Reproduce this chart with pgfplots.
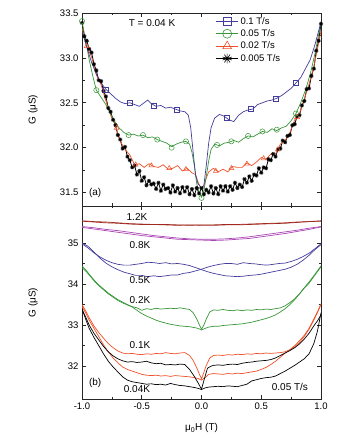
\documentclass[border=0pt]{standalone}
\usepackage{fontspec}
\setmainfont{Liberation Sans}
\usepackage{pgfplots}
\pgfplotsset{compat=1.18}
\definecolor{cB}{RGB}{68,60,155}
\definecolor{cG}{RGB}{55,150,55}
\definecolor{cR}{RGB}{240,80,40}
\definecolor{cBr}{RGB}{160,40,30}
\definecolor{cP}{RGB}{170,70,180}
\pgfplotsset{
  myax/.style={
    scale only axis, width=239pt, height=193pt,
    xmin=-1, xmax=1,
    xtick={-1,-0.5,0,0.5,1}, minor x tick num=1,
    xtick pos=both, ytick pos=both,
    tick align=inside,
    major tick length=4pt, minor tick length=2.5pt,
    axis line style={line width=0.7pt, black!85},
    every tick/.style={line width=0.6pt, black!85},
    tick label style={font=\fontsize{9.5}{11}\selectfont},
    label style={font=\fontsize{10}{12}\selectfont},
    every axis y label/.style={at={(axis description cs:-0.205,0.5)}, rotate=90, anchor=center},
    clip=true,
  }
}
\begin{document}
\begin{tikzpicture}
\useasboundingbox (0pt,0pt) rectangle (355pt,443pt);
% ---------------- top panel ----------------
\begin{axis}[myax, at={(82pt,237pt)}, anchor=south west,
  ymin=31.35, ymax=33.5,
  ytick={31.5,32,32.5,33,33.5}, yticklabels={31.5,32.0,32.5,33.0,33.5},
  minor y tick num=1,
  xticklabel=\empty,
  ylabel={G (μS)},
  legend style={draw=none, fill=none, at={(axis description cs:0.555,0.995)}, anchor=north west,
     font=\fontsize{9.5}{12.6}\selectfont, row sep=0pt, inner sep=1pt},
  legend cell align=left,
  legend image code/.code={\draw[mark repeat=2,mark phase=2] plot coordinates {(0pt,0pt) (11pt,0pt) (22pt,0pt)};},
]
\addlegendimage{cB, line width=0.7pt, mark=square, mark size=4pt, mark options={fill=white, line width=0.6pt}}
\addlegendentry{0.1 T/s}
\addlegendimage{cG, line width=0.7pt, mark=o, mark size=4.5pt, mark options={fill=white, line width=0.6pt}}
\addlegendentry{0.05 T/s}
\addlegendimage{cR, line width=0.7pt, mark=triangle, mark size=5pt, mark options={fill=white, line width=0.6pt}}
\addlegendentry{0.02 T/s}
\addlegendimage{black, line width=0.7pt, mark=10-pointed star, mark size=4.8pt, mark options={fill=white, line width=0.6pt}}
\addlegendentry{0.005 T/s}
% black 0.005 T/s
\addplot[forget plot, black, line width=0.8pt, mark=10-pointed star, mark size=2.1pt, mark options={fill=white, line width=0.45pt}] coordinates {
(-1.00,33.39)(-0.98,33.24)(-0.96,33.19)(-0.94,33.10)(-0.92,33.06)(-0.90,32.93)(-0.88,32.86)(-0.86,32.75)(-0.84,32.74)(-0.82,32.63)
(-0.80,32.57)(-0.78,32.44)(-0.76,32.40)(-0.74,32.31)(-0.72,32.25)(-0.70,32.14)(-0.68,32.09)(-0.66,31.99)(-0.64,32.01)(-0.62,31.90)
(-0.60,31.86)(-0.58,31.78)(-0.56,31.80)(-0.54,31.70)(-0.52,31.74)(-0.50,31.63)(-0.48,31.67)(-0.46,31.58)(-0.44,31.63)(-0.42,31.59)
(-0.40,31.60)(-0.38,31.54)(-0.36,31.61)(-0.34,31.52)(-0.32,31.59)(-0.30,31.54)(-0.28,31.55)(-0.26,31.50)(-0.24,31.58)(-0.22,31.51)
(-0.20,31.55)(-0.18,31.49)(-0.16,31.56)(-0.14,31.51)(-0.12,31.56)(-0.10,31.48)(-0.08,31.54)(-0.06,31.47)(-0.04,31.55)(-0.02,31.49)
(0.00,31.55)(0.02,31.48)(0.04,31.53)(0.06,31.50)(0.08,31.57)(0.10,31.49)(0.12,31.55)(0.14,31.48)(0.16,31.57)(0.18,31.52)
(0.20,31.57)(0.22,31.51)(0.24,31.57)(0.26,31.53)(0.28,31.61)(0.30,31.55)(0.32,31.59)(0.34,31.56)(0.36,31.65)(0.38,31.61)
(0.40,31.68)(0.42,31.63)(0.44,31.70)(0.46,31.69)(0.48,31.77)(0.50,31.72)(0.52,31.78)(0.54,31.77)(0.56,31.87)(0.58,31.86)
(0.60,31.93)(0.62,31.90)(0.64,31.98)(0.66,31.99)(0.68,32.08)(0.70,32.06)(0.72,32.13)(0.74,32.14)(0.76,32.25)(0.78,32.26)
(0.80,32.35)(0.82,32.36)(0.84,32.47)(0.86,32.52)(0.88,32.65)(0.90,32.66)(0.92,32.80)(0.94,32.88)(0.96,33.08)(0.98,33.19)(1.00,33.38)
};
% red 0.02 T/s
\addplot[forget plot, cR, line width=0.7pt] coordinates {
(-1.00,33.33)(-0.96,33.13)(-0.92,33.01)(-0.88,32.81)(-0.84,32.70)(-0.80,32.52)(-0.76,32.36)(-0.72,32.25)(-0.68,32.07)(-0.64,31.98)
(-0.60,31.92)(-0.56,31.81)(-0.52,31.82)(-0.48,31.78)(-0.44,31.82)(-0.40,31.79)(-0.36,31.78)(-0.32,31.81)(-0.28,31.76)(-0.24,31.77)
(-0.20,31.80)(-0.16,31.74)(-0.12,31.77)(-0.08,31.72)(-0.05,31.70)(-0.03,31.62)(-0.01,31.56)(0.00,31.55)(0.02,31.58)(0.04,31.66)
(0.06,31.73)(0.10,31.77)(0.14,31.73)(0.18,31.76)(0.22,31.73)(0.26,31.79)(0.30,31.78)(0.34,31.78)(0.38,31.83)(0.42,31.80)
(0.46,31.84)(0.50,31.89)(0.54,31.87)(0.58,31.93)(0.62,31.93)(0.66,32.04)(0.70,32.08)(0.74,32.17)(0.78,32.31)(0.82,32.38)
(0.86,32.54)(0.90,32.71)(0.94,32.90)(0.97,33.10)(1.00,33.30)
};
\addplot[forget plot, only marks, cR, mark=triangle, mark size=2.8pt, mark options={fill=white, line width=0.5pt}] coordinates {
(-0.96,33.13)(-0.71,32.22)(-0.55,31.81)(-0.42,31.80)(-0.27,31.77)(-0.13,31.76)(0.12,31.74)(0.25,31.77)(0.38,31.82)(0.52,31.88)(0.64,31.98)(0.80,32.34)
};
% green 0.05 T/s
\addplot[forget plot, cG, line width=0.7pt] coordinates {
(-1.00,33.40)(-0.97,33.20)(-0.94,32.98)(-0.91,32.80)(-0.88,32.64)(-0.84,32.56)(-0.80,32.48)(-0.77,32.40)(-0.73,32.30)(-0.69,32.22)
(-0.65,32.17)(-0.61,32.14)(-0.57,32.15)(-0.53,32.13)(-0.49,32.14)(-0.45,32.11)(-0.41,32.12)(-0.37,32.09)(-0.33,32.07)(-0.29,32.05)
(-0.25,32.01)(-0.21,32.04)(-0.17,32.06)(-0.13,32.07)(-0.10,32.04)(-0.08,31.95)(-0.06,31.80)(-0.04,31.60)(-0.02,31.50)(0.00,31.45)
(0.02,31.52)(0.04,31.68)(0.06,31.85)(0.08,31.98)(0.11,32.04)(0.15,32.02)(0.19,32.05)(0.23,32.06)(0.27,32.08)(0.31,32.06)
(0.35,32.10)(0.39,32.13)(0.43,32.12)(0.47,32.15)(0.51,32.18)(0.55,32.17)(0.59,32.21)(0.63,32.19)(0.67,32.22)(0.71,32.24)
(0.75,32.30)(0.79,32.38)(0.83,32.50)(0.87,32.64)(0.91,32.82)(0.95,33.05)(1.00,33.40)
};
\addplot[forget plot, only marks, cG, mark=o, mark size=2.6pt, mark options={fill=white, line width=0.5pt}] coordinates {
(-1.00,33.41)(-0.88,32.64)(-0.61,32.14)(-0.49,32.14)(-0.37,32.09)(-0.25,32.00)(-0.13,32.07)(0.00,31.44)(0.13,32.03)(0.25,32.07)(0.39,32.13)(0.51,32.18)(0.63,32.20)(0.79,32.38)
};
% blue 0.1 T/s
\addplot[forget plot, cB, line width=0.7pt] coordinates {
(-1.00,33.30)(-0.96,33.12)(-0.92,32.95)(-0.88,32.82)(-0.84,32.72)(-0.80,32.65)(-0.76,32.60)(-0.72,32.55)(-0.68,32.51)(-0.64,32.49)
(-0.60,32.50)(-0.56,32.48)(-0.52,32.46)(-0.48,32.50)(-0.45,32.53)(-0.42,32.49)(-0.38,32.46)(-0.34,32.47)(-0.30,32.44)(-0.26,32.45)
(-0.22,32.43)(-0.18,32.41)(-0.14,32.40)(-0.11,32.36)(-0.09,32.22)(-0.07,31.95)(-0.05,31.70)(-0.03,31.60)(0.00,31.55)(0.02,31.58)
(0.04,31.80)(0.06,32.05)(0.08,32.22)(0.11,32.33)(0.15,32.37)(0.19,32.35)(0.23,32.31)(0.27,32.29)(0.31,32.36)(0.35,32.40)
(0.39,32.42)(0.43,32.43)(0.47,32.48)(0.51,32.50)(0.55,32.52)(0.59,32.53)(0.63,32.55)(0.67,32.58)(0.71,32.62)(0.75,32.66)
(0.79,32.72)(0.83,32.78)(0.87,32.88)(0.91,32.98)(0.95,33.15)(1.00,33.40)
};
\addplot[forget plot, only marks, cB, mark=square, mark size=2.5pt, mark options={fill=white, line width=0.5pt}] coordinates {
(-0.80,32.65)(-0.60,32.50)(-0.40,32.47)(-0.21,32.42)(0.21,32.33)(0.41,32.43)(0.62,32.55)(0.79,32.72)
};
\node[font=\fontsize{10}{12}\selectfont] at (axis cs:-0.414,33.39) {T = 0.04 K};
\node[font=\fontsize{10}{12}\selectfont] at (axis cs:-0.89,31.50) {(a)};
\end{axis}
% ---------------- bottom panel ----------------
\begin{axis}[myax, at={(82pt,44pt)}, anchor=south west,
  ymin=31.2, ymax=35.9,
  ytick={32,33,34,35}, yticklabels={32,33,34,35},
  minor y tick num=1,
  xticklabels={-1.0,-0.5,0.0,0.5,1.0},
  ylabel={G (μS)},
  xlabel={μ\textsubscript{0}H (T)},
  xlabel style={at={(axis description cs:0.5,-0.15)}, anchor=center},
]
% 1.2 K
\addplot[cBr, line width=0.7pt] coordinates {
(-1.0,35.53)(-0.9,35.51)(-0.8,35.49)(-0.7,35.48)(-0.6,35.46)(-0.5,35.45)(-0.4,35.45)(-0.3,35.44)(-0.2,35.43)(-0.1,35.44)(0.0,35.43)
(0.1,35.43)(0.2,35.44)(0.3,35.44)(0.4,35.45)(0.5,35.46)(0.6,35.47)(0.7,35.48)(0.8,35.50)(0.9,35.52)(1.0,35.54)
};
\addplot[cBr, line width=0.7pt] coordinates {
(-1.0,35.54)(-0.9,35.52)(-0.8,35.51)(-0.7,35.49)(-0.6,35.47)(-0.5,35.46)(-0.4,35.45)(-0.3,35.45)(-0.2,35.44)(-0.1,35.43)(0.0,35.44)
(0.1,35.44)(0.2,35.45)(0.3,35.45)(0.4,35.46)(0.5,35.47)(0.6,35.48)(0.7,35.49)(0.8,35.51)(0.9,35.52)(1.0,35.53)
};
% 0.8 K
\addplot[cP, line width=0.7pt] coordinates {
(-1.0,35.40)(-0.9,35.37)(-0.8,35.33)(-0.7,35.30)(-0.6,35.26)(-0.5,35.22)(-0.4,35.18)(-0.3,35.15)(-0.2,35.12)(-0.1,35.10)(0.0,35.09)
(0.1,35.09)(0.2,35.10)(0.3,35.12)(0.4,35.15)(0.5,35.19)(0.6,35.23)(0.7,35.27)(0.8,35.31)(0.9,35.36)(1.0,35.40)
};
\addplot[cP, line width=0.7pt] coordinates {
(-1.0,35.38)(-0.9,35.34)(-0.8,35.30)(-0.7,35.26)(-0.6,35.22)(-0.5,35.18)(-0.4,35.15)(-0.3,35.12)(-0.2,35.09)(-0.1,35.08)(0.0,35.07)
(0.1,35.06)(0.2,35.07)(0.3,35.09)(0.4,35.11)(0.5,35.15)(0.6,35.19)(0.7,35.23)(0.8,35.28)(0.9,35.33)(1.0,35.39)
};
% 0.5 K
\addplot[cB, line width=0.7pt] coordinates {
(-1.00,35.00)(-0.95,34.92)(-0.90,34.78)(-0.85,34.63)(-0.80,34.51)(-0.75,34.42)(-0.70,34.35)(-0.65,34.29)(-0.60,34.25)(-0.55,34.21)
(-0.50,34.21)(-0.45,34.18)(-0.40,34.20)(-0.35,34.18)(-0.30,34.20)(-0.25,34.22)(-0.20,34.22)(-0.15,34.26)(-0.10,34.28)(-0.05,34.32)
(0.00,34.36)(0.05,34.41)(0.10,34.45)(0.15,34.48)(0.20,34.50)(0.25,34.50)(0.30,34.48)(0.35,34.52)(0.40,34.50)(0.45,34.49)
(0.50,34.47)(0.55,34.46)(0.60,34.48)(0.65,34.50)(0.70,34.51)(0.75,34.55)(0.80,34.60)(0.85,34.67)(0.90,34.75)(0.95,34.86)(1.00,34.98)
};
\addplot[cB, line width=0.7pt] coordinates {
(-1.00,34.98)(-0.95,34.88)(-0.90,34.76)(-0.85,34.66)(-0.80,34.58)(-0.75,34.52)(-0.70,34.48)(-0.65,34.46)(-0.60,34.46)(-0.55,34.48)
(-0.50,34.50)(-0.45,34.53)(-0.40,34.52)(-0.35,34.50)(-0.30,34.52)(-0.25,34.49)(-0.20,34.50)(-0.15,34.48)(-0.10,34.45)(-0.05,34.40)
(0.00,34.35)(0.05,34.30)(0.10,34.26)(0.15,34.23)(0.20,34.20)(0.25,34.19)(0.30,34.18)(0.35,34.19)(0.40,34.21)(0.45,34.22)
(0.50,34.24)(0.55,34.27)(0.60,34.30)(0.65,34.33)(0.70,34.36)(0.75,34.41)(0.80,34.48)(0.85,34.58)(0.90,34.70)(0.95,34.84)(1.00,34.96)
};
% 0.2 K
\addplot[cG, line width=0.7pt] coordinates {
(-1.00,34.40)(-0.97,34.32)(-0.94,34.22)(-0.90,34.08)(-0.86,33.96)(-0.82,33.86)(-0.78,33.76)(-0.74,33.68)(-0.70,33.60)(-0.66,33.54)
(-0.62,33.49)(-0.58,33.45)(-0.54,33.42)(-0.50,33.36)(-0.46,33.40)(-0.42,33.38)(-0.38,33.41)(-0.34,33.39)(-0.30,33.40)(-0.26,33.41)
(-0.22,33.40)(-0.18,33.42)(-0.14,33.40)(-0.10,33.38)(-0.07,33.30)(-0.04,33.15)(-0.02,33.02)(0.00,32.90)(0.02,33.00)(0.04,33.15)
(0.07,33.32)(0.10,33.37)(0.14,33.36)(0.18,33.38)(0.22,33.36)(0.26,33.35)(0.30,33.37)(0.34,33.35)(0.38,33.37)(0.42,33.36)
(0.46,33.38)(0.50,33.37)(0.54,33.39)(0.58,33.38)(0.62,33.40)(0.66,33.42)(0.70,33.47)(0.74,33.55)(0.78,33.64)(0.82,33.76)
(0.86,33.90)(0.90,34.02)(0.94,34.18)(0.97,34.30)(1.00,34.42)
};
\addplot[cG, line width=0.7pt] coordinates {
(-1.00,34.44)(-0.97,34.35)(-0.94,34.24)(-0.90,34.10)(-0.86,33.98)(-0.82,33.88)(-0.78,33.78)(-0.74,33.70)(-0.70,33.62)(-0.66,33.56)
(-0.62,33.50)(-0.58,33.44)(-0.54,33.36)(-0.50,33.28)(-0.46,33.22)(-0.42,33.17)(-0.38,33.12)(-0.34,33.08)(-0.30,33.05)(-0.26,33.02)
(-0.22,33.00)(-0.18,32.98)(-0.14,32.97)(-0.10,32.96)(-0.06,32.94)(-0.03,32.92)(0.00,32.88)(0.03,32.92)(0.06,32.95)(0.10,32.97)
(0.14,32.97)(0.18,32.99)(0.22,33.00)(0.26,33.01)(0.30,33.02)(0.34,33.03)(0.38,33.05)(0.42,33.07)(0.46,33.10)(0.50,33.13)
(0.54,33.16)(0.58,33.20)(0.62,33.25)(0.66,33.32)(0.70,33.40)(0.74,33.50)(0.78,33.62)(0.82,33.76)(0.86,33.91)(0.90,34.05)
(0.94,34.20)(0.97,34.32)(1.00,34.44)
};
% 0.1 K
\addplot[cR, line width=0.7pt] coordinates {
(-1.00,33.50)(-0.97,33.35)(-0.94,33.18)(-0.90,32.98)(-0.86,32.82)(-0.82,32.68)(-0.78,32.55)(-0.74,32.45)(-0.70,32.37)(-0.66,32.32)
(-0.62,32.30)(-0.58,32.31)(-0.54,32.29)(-0.50,32.28)(-0.46,32.30)(-0.42,32.29)(-0.38,32.31)(-0.34,32.30)(-0.30,32.33)(-0.26,32.31)
(-0.22,32.30)(-0.18,32.32)(-0.14,32.33)(-0.10,32.26)(-0.07,32.14)(-0.04,31.96)(-0.02,31.82)(0.00,31.69)(0.02,31.85)(0.04,32.02)
(0.07,32.20)(0.10,32.26)(0.14,32.27)(0.18,32.26)(0.22,32.28)(0.26,32.27)(0.30,32.29)(0.34,32.28)(0.38,32.30)(0.42,32.29)
(0.46,32.31)(0.50,32.30)(0.54,32.32)(0.58,32.31)(0.62,32.32)(0.66,32.33)(0.70,32.35)(0.74,32.40)(0.78,32.47)(0.82,32.58)
(0.86,32.72)(0.90,32.90)(0.94,33.12)(0.97,33.30)(1.00,33.50)
};
\addplot[cR, line width=0.7pt] coordinates {
(-1.00,33.45)(-0.97,33.30)(-0.94,33.12)(-0.90,32.92)(-0.86,32.72)(-0.82,32.52)(-0.78,32.35)(-0.74,32.20)(-0.70,32.08)(-0.66,31.98)
(-0.62,31.92)(-0.58,31.88)(-0.54,31.84)(-0.50,31.80)(-0.46,31.78)(-0.42,31.77)(-0.38,31.78)(-0.34,31.76)(-0.30,31.77)(-0.26,31.75)
(-0.22,31.77)(-0.18,31.76)(-0.14,31.75)(-0.10,31.74)(-0.06,31.72)(-0.03,31.70)(0.00,31.66)(0.03,31.72)(0.06,31.80)(0.10,31.82)
(0.14,31.81)(0.18,31.80)(0.22,31.82)(0.26,31.81)(0.30,31.83)(0.34,31.82)(0.38,31.84)(0.42,31.86)(0.46,31.88)(0.50,31.92)
(0.54,31.97)(0.58,32.04)(0.62,32.12)(0.66,32.22)(0.70,32.32)(0.74,32.40)(0.78,32.50)(0.82,32.62)(0.86,32.75)(0.90,32.92)
(0.94,33.15)(0.97,33.32)(1.00,33.52)
};
% 0.04 K
\addplot[black, line width=0.7pt] coordinates {
(-1.00,33.38)(-0.97,33.20)(-0.94,33.00)(-0.90,32.80)(-0.86,32.64)(-0.82,32.48)(-0.78,32.35)(-0.74,32.25)(-0.70,32.18)(-0.66,32.13)
(-0.62,32.10)(-0.58,32.11)(-0.54,32.09)(-0.50,32.10)(-0.46,32.12)(-0.42,32.08)(-0.38,32.06)(-0.34,32.07)(-0.30,32.03)(-0.26,32.04)
(-0.22,32.03)(-0.18,32.05)(-0.14,32.04)(-0.10,31.92)(-0.06,31.75)(-0.03,31.60)(0.00,31.44)(0.02,31.65)(0.05,31.95)(0.08,32.00)
(0.10,32.02)(0.14,32.03)(0.18,32.02)(0.22,32.04)(0.26,32.05)(0.30,32.04)(0.34,32.07)(0.38,32.09)(0.42,32.10)(0.46,32.12)
(0.50,32.13)(0.54,32.14)(0.58,32.16)(0.62,32.20)(0.66,32.26)(0.70,32.32)(0.74,32.38)(0.78,32.45)(0.82,32.54)(0.86,32.66)
(0.90,32.80)(0.94,32.98)(0.97,33.10)(1.00,33.25)
};
\addplot[black, line width=0.7pt] coordinates {
(-1.00,33.40)(-0.97,33.15)(-0.94,32.92)(-0.90,32.70)(-0.86,32.50)(-0.82,32.30)(-0.78,32.12)(-0.74,31.98)(-0.70,31.86)(-0.66,31.74)
(-0.62,31.66)(-0.58,31.62)(-0.54,31.60)(-0.50,31.58)(-0.46,31.56)(-0.42,31.57)(-0.38,31.55)(-0.34,31.56)(-0.30,31.54)(-0.26,31.58)
(-0.22,31.55)(-0.18,31.53)(-0.14,31.52)(-0.10,31.50)(-0.06,31.48)(-0.03,31.46)(0.00,31.43)(0.03,31.47)(0.06,31.49)(0.10,31.50)
(0.14,31.51)(0.18,31.50)(0.22,31.52)(0.26,31.51)(0.30,31.50)(0.34,31.53)(0.38,31.56)(0.42,31.64)(0.46,31.67)(0.50,31.70)
(0.54,31.72)(0.58,31.73)(0.62,31.76)(0.66,31.82)(0.70,31.88)(0.74,31.95)(0.78,32.02)(0.82,32.10)(0.86,32.18)(0.90,32.30)
(0.94,32.55)(0.97,32.85)(1.00,33.30)
};
\begin{scope}[every node/.style={font=\fontsize{10}{12}\selectfont}]
\node at (axis cs:-0.54,35.63) {1.2K};
\node at (axis cs:-0.515,34.95) {0.8K};
\node at (axis cs:-0.515,34.09) {0.5K};
\node at (axis cs:-0.515,33.61) {0.2K};
\node at (axis cs:-0.515,32.51) {0.1K};
\node at (axis cs:-0.54,31.45) {0.04K};
\node at (axis cs:-0.89,31.59) {(b)};
\node at (axis cs:0.74,31.49) {0.05 T/s};
\end{scope}
\end{axis}
\end{tikzpicture}
\end{document}
